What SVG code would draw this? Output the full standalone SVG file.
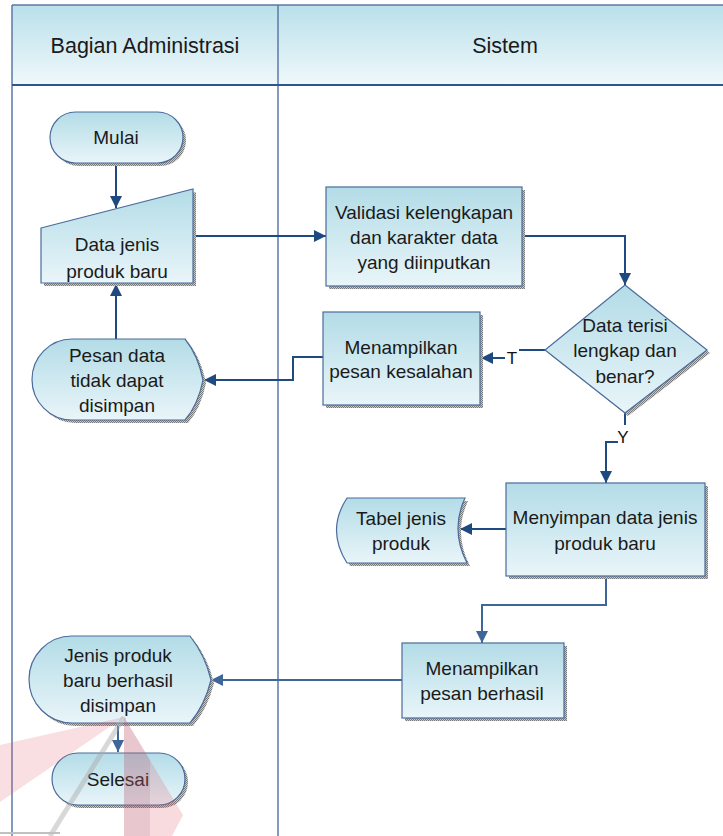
<svg xmlns="http://www.w3.org/2000/svg" width="723" height="836" viewBox="0 0 723 836">
  <defs>
    <linearGradient id="fillGrad" x1="0" y1="0" x2="0" y2="1">
      <stop offset="0" stop-color="#b3dce7"/>
      <stop offset="1" stop-color="#e9f5f9"/>
    </linearGradient>
    <linearGradient id="headGrad" x1="0" y1="0" x2="0" y2="1">
      <stop offset="0" stop-color="#b9e0ea"/>
      <stop offset="1" stop-color="#f0f8fb"/>
    </linearGradient>
    <pattern id="shade" width="2" height="2" patternUnits="userSpaceOnUse">
      <rect width="2" height="2" fill="#c8c8c8"/>
      <rect width="1" height="1" fill="#7a7a7a"/>
      <rect x="1" y="1" width="1" height="1" fill="#7a7a7a"/>
    </pattern>
    <marker id="arrow" viewBox="0 0 12 12" refX="12" refY="6" markerWidth="12" markerHeight="12" markerUnits="userSpaceOnUse" orient="auto">
      <path d="M0,0 L12,6 L0,12 Z" fill="#1f4a80"/>
    </marker>
    <marker id="arrowLight" viewBox="0 0 12 12" refX="12" refY="6" markerWidth="12" markerHeight="12" markerUnits="userSpaceOnUse" orient="auto">
      <path d="M0,0 L12,6 L0,12 Z" fill="#3f6699"/>
    </marker>
  </defs>
  <style>
    .shape { fill: url(#fillGrad); stroke: #4a6c9c; stroke-width: 1.2; }
    .shadow { fill: url(#shade); }
    .lane { stroke: #5c78a6; stroke-width: 1.5; fill: none; }
    .label { font-family: "Liberation Sans", Arial, sans-serif; font-size: 19px; fill: #1a1a1a; text-anchor: middle; }
    .head { font-family: "Liberation Sans", Arial, sans-serif; font-size: 21.5px; fill: #1a1a1a; text-anchor: middle; }
    .conn { fill: none; stroke: #1f4a80; stroke-width: 2; }
    .connLight { fill: none; stroke: #3f6699; stroke-width: 2; }
    .tag { font-family: "Liberation Sans", Arial, sans-serif; font-size: 17px; fill: #111; text-anchor: middle; }
  </style>

  <rect width="723" height="836" fill="#ffffff"/>

  <!-- swimlane frame -->
  <g id="lanes">
    <rect x="12" y="5" width="711" height="80" fill="url(#headGrad)"/>
    <line class="lane" x1="12" y1="5" x2="723" y2="5"/>
    <line class="lane" x1="12" y1="5" x2="12" y2="836"/>
    <line class="lane" x1="278" y1="5" x2="278" y2="836"/>
    <line x1="12" y1="85" x2="723" y2="85" stroke="#2f5690" stroke-width="2"/>
    <text class="head" x="145" y="53">Bagian Administrasi</text>
    <text class="head" x="505" y="53">Sistem</text>
  </g>

  <!-- connectors -->
  <g id="connectors">
    <path class="conn" d="M116,163 V208" marker-end="url(#arrow)"/>
    <path class="conn" d="M193,236 H326" marker-end="url(#arrow)"/>
    <path class="conn" d="M522,236 H625 V285" marker-end="url(#arrow)"/>
    <path class="conn" d="M545,350 H513 V358 H481" marker-end="url(#arrow)"/>
    <path class="conn" d="M323,357 H293 V380 H204" marker-end="url(#arrow)"/>
    <path class="conn" d="M116,339 V284" marker-end="url(#arrow)"/>
    <path class="conn" d="M625,413 V425"/>
    <path class="conn" d="M618,442 H606 V483" marker-end="url(#arrow)"/>
    <path class="conn" d="M506,529 H460" marker-end="url(#arrow)"/>
    <path class="connLight" d="M606,577 V605 H482 V643" marker-end="url(#arrowLight)"/>
    <path class="connLight" d="M402,680 H211" marker-end="url(#arrowLight)"/>
    <path class="connLight" d="M118,723 V752" marker-end="url(#arrowLight)"/>
    <rect x="505" y="348" width="14" height="18" fill="#ffffff"/>
    <text class="tag" x="512" y="364">T</text>
    <text class="tag" x="623" y="443">Y</text>
  </g>

  <g id="mulai">
    <rect class="shadow" x="53" y="115" width="133" height="51" rx="25.5"/>
    <rect class="shape" x="50" y="112" width="133" height="51" rx="25.5"/>
    <text class="label" x="116" y="144">Mulai</text>
  </g>

  <g id="input-data">
    <path class="shadow" d="M44,231 L196,192 L196,286 L44,286 Z"/>
    <path class="shape" d="M41,228 L193,189 L193,283 L41,283 Z"/>
    <text class="label" x="117" y="251">Data jenis</text>
    <text class="label" x="117" y="278">produk baru</text>
  </g>

  <g id="pesan-gagal">
    <path class="shadow" d="M75,342 H188 Q201,358 206,383 Q201,408 188,423 H75 A40,40.5 0 0 1 75,342 Z"/>
    <path class="shape" d="M72,339 H185 Q198,355 203,380 Q198,405 185,420 H72 A40,40.5 0 0 1 72,339 Z"/>
    <text class="label" x="117" y="362">Pesan data</text>
    <text class="label" x="117" y="387">tidak dapat</text>
    <text class="label" x="117" y="412">disimpan</text>
  </g>

  <g id="validasi">
    <rect class="shadow" x="329" y="190" width="196" height="99"/>
    <rect class="shape" x="326" y="187" width="196" height="99"/>
    <text class="label" x="424" y="219">Validasi kelengkapan</text>
    <text class="label" x="424" y="244">dan karakter data</text>
    <text class="label" x="424" y="269">yang diinputkan</text>
  </g>

  <g id="cek-data">
    <polygon class="shadow" points="628,288 710,353 628,416 548,353"/>
    <polygon class="shape" points="625,285 707,350 625,413 545,350"/>
    <text class="label" x="625" y="332">Data terisi</text>
    <text class="label" x="625" y="357">lengkap dan</text>
    <text class="label" x="625" y="383">benar?</text>
  </g>

  <g id="pesan-kesalahan">
    <rect class="shadow" x="326" y="315" width="157" height="93"/>
    <rect class="shape" x="323" y="312" width="157" height="93"/>
    <text class="label" x="401" y="354">Menampilkan</text>
    <text class="label" x="401" y="378">pesan kesalahan</text>
  </g>

  <g id="menyimpan">
    <rect class="shadow" x="509" y="486" width="199" height="93"/>
    <rect class="shape" x="506" y="483" width="199" height="93"/>
    <text class="label" x="605" y="524">Menyimpan data jenis</text>
    <text class="label" x="605" y="550">produk baru</text>
  </g>

  <g id="tabel-jenis">
    <path class="shadow" d="M350,501 H468 Q453,533 470,566 H350 Q329,533 350,501 Z"/>
    <path class="shape" d="M347,498 H465 Q450,530 467,563 H347 Q326,530 347,498 Z"/>
    <text class="label" x="401" y="525">Tabel jenis</text>
    <text class="label" x="401" y="550">produk</text>
  </g>

  <g id="pesan-berhasil">
    <rect class="shadow" x="405" y="646" width="162" height="75"/>
    <rect class="shape" x="402" y="643" width="162" height="75"/>
    <text class="label" x="482" y="675">Menampilkan</text>
    <text class="label" x="482" y="700">pesan berhasil</text>
  </g>

  <g id="info-berhasil">
    <path class="shadow" d="M75,639 H193 Q208,658 214,683 Q208,708 193,726 H75 A43,43.5 0 0 1 75,639 Z"/>
    <path class="shape" d="M72,636 H190 Q205,655 211,680 Q205,705 190,723 H72 A43,43.5 0 0 1 72,636 Z"/>
    <text class="label" x="118" y="662">Jenis produk</text>
    <text class="label" x="118" y="687">baru berhasil</text>
    <text class="label" x="118" y="712">disimpan</text>
  </g>

  <g id="selesai">
    <rect class="shadow" x="55" y="756" width="133" height="52" rx="26"/>
    <rect class="shape" x="52" y="753" width="133" height="52" rx="26"/>
    <text class="label" x="118" y="786">Selesai</text>
  </g>

  <!-- translucent logo print laid over the lower left lane -->
  <g id="overprint">
    <polygon points="124,717 0,745 0,802" fill="#e05a6e" fill-opacity="0.2"/>
    <polygon points="124,717 183,815 172,836 124,836" fill="#e05a6e" fill-opacity="0.22"/>
    <polygon points="124,717 150,760 150,836 124,836" fill="#8a6070" fill-opacity="0.15"/>
    <line x1="124" y1="717" x2="50" y2="836" stroke="#a8a8a8" stroke-width="5" stroke-opacity="0.45"/>
    <line x1="0" y1="833" x2="60" y2="833" stroke="#c0c0c0" stroke-width="2"/>
  </g>
</svg>
